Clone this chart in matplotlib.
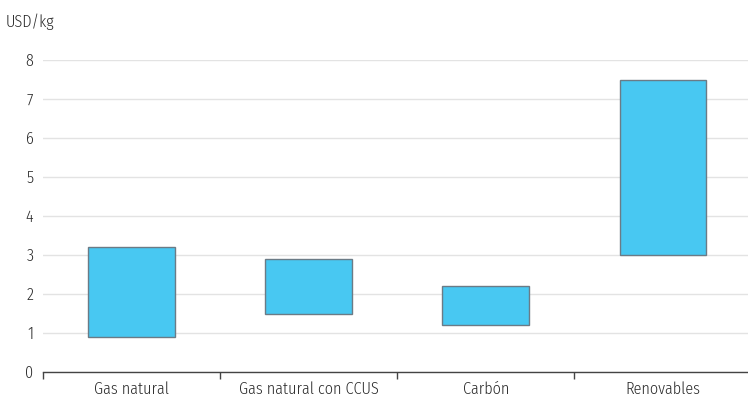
import matplotlib
matplotlib.use("Agg")
import matplotlib.pyplot as plt
from matplotlib import font_manager

categories = ["Gas natural", "Gas natural con CCUS", "Carbón", "Renovables"]
low = [0.9, 1.5, 1.2, 3.0]
high = [3.2, 2.9, 2.2, 7.5]
yticks = [0, 1, 2, 3, 4, 5, 6, 7, 8]


def wnum(w):
    if isinstance(w, (int, float)):
        return w
    return font_manager.weight_dict.get(str(w).lower(), 400)


regular = {f.name for f in font_manager.fontManager.ttflist
           if 300 <= wnum(f.weight) <= 400 and f.style == "normal"}
prefs = ["Fira Sans Condensed", "Roboto Condensed", "Open Sans Condensed",
         "Encode Sans Condensed", "PT Sans Narrow", "Archivo Narrow",
         "Asap Condensed", "Saira Condensed", "Liberation Sans Narrow",
         "Liberation Sans"]
fam = next((p for p in prefs if p in regular), "DejaVu Sans")
plt.rcParams["font.family"] = [fam, "DejaVu Sans"]
plt.rcParams["font.weight"] = 300

fig = plt.figure(figsize=(7.48, 4.01), dpi=100)

# calibrate font size so the longest label width matches the reference (~140 px)
r = fig.canvas.get_renderer()
t = fig.text(0, 0, categories[1], fontsize=10)
w10 = t.get_window_extent(renderer=r).width
t.remove()
fs = max(9.0, min(13.5, 10 * 140.0 / w10))

ax = fig.add_axes([0.0575, 0.0723, 0.9425, 0.7777])

x = list(range(len(categories)))
heights = [h - l for h, l in zip(high, low)]
ax.bar(x, heights, bottom=low, width=0.49, color="#48C8F2", edgecolor="#6B7B86",
       linewidth=1.0, zorder=3)

tc = "#2a2a2a"
ax.set_ylim(0, 8)
ax.set_xlim(-0.5, 3.48)
ax.set_yticks(yticks)
ax.set_yticklabels([str(v) for v in yticks], fontsize=fs, color=tc)
ax.tick_params(axis="y", length=0, pad=7)
ax.yaxis.grid(True, color="#e3e3e3", linewidth=1.0, zorder=0)
ax.set_axisbelow(True)

ax.set_xticks(x)
ax.set_xticklabels(categories, fontsize=fs, color=tc)
ax.tick_params(axis="x", which="major", length=0, pad=7)
ax.set_xticks([-0.5, 0.5, 1.5, 2.5], minor=True)
ax.tick_params(axis="x", which="minor", length=5, width=1.0, color="#444444", direction="out")

for s in ["top", "right", "left"]:
    ax.spines[s].set_visible(False)
ax.spines["bottom"].set_color("#444444")
ax.spines["bottom"].set_linewidth(1.0)

fig.text(0.008, 0.945, "USD/kg", fontsize=fs, color=tc, ha="left", va="center")

fig.savefig("out.png", dpi=100)
